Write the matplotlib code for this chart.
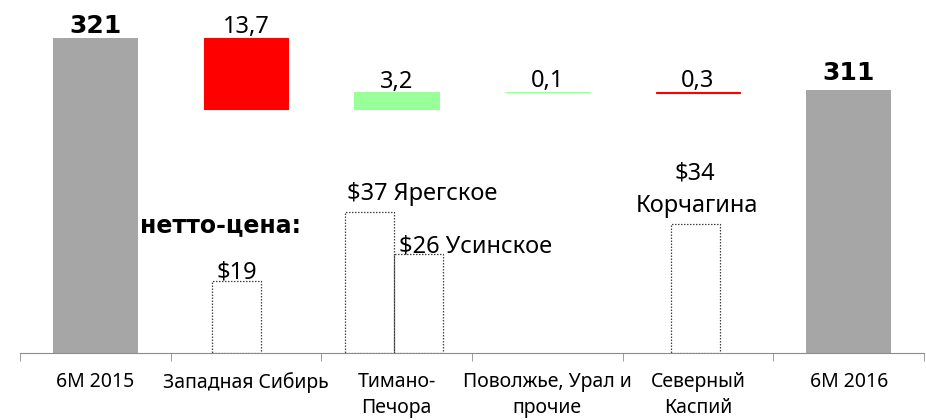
import numpy as np
import matplotlib.pyplot as plt

plt.rcParams['font.family'] = ['Noto Sans', 'DejaVu Sans']

categories = ['6M 2015', 'Западная Сибирь', 'Тимано-\nПечора',
              'Поволжье, Урал и\nпрочие', 'Северный\nКаспий', '6M 2016']
start_value = 321
deltas = [-13.7, 3.2, 0.1, -0.3]
delta_labels = ['13,7', '3,2', '0,1', '0,3']
delta_colors = ['#ff0000', '#99ff99', '#99ff99', '#ff0000']
end_value = 311

# нетто-цена, $/барр
price_x = [1.437, 2.322, 2.648, 4.482]
price_values = [19, 37, 26, 34]

fig = plt.figure(figsize=(9.26, 4.2), dpi=100)
ax = fig.add_axes([20 / 926, 67 / 420, 904 / 926, 353 / 420])
ax2 = ax.twinx()

bar_w = 0.564
price_w = 0.325
label_kw = dict(textcoords='offset points', ha='center', va='baseline')
bold_kw = dict(fontsize=18, fontweight='bold', family='DejaVu Sans')

# waterfall
ax.bar(0.5, start_value - 260, bottom=260, width=bar_w, color='#a6a6a6')
ax.annotate(str(start_value), (0.5, start_value), xytext=(0, 4), **bold_kw, **label_kw)

level = start_value
for i, (d, lab, c) in enumerate(zip(deltas, delta_labels, delta_colors)):
    x = i + 1.5
    lo, hi = min(level, level + d), max(level, level + d)
    ax.bar(x, hi - lo, bottom=lo, width=bar_w, color=c, edgecolor=c, linewidth=0.8)
    ax.annotate(lab, (x, hi), xytext=(0, 3.5), fontsize=17, **label_kw)
    level += d

ax.bar(5.5, end_value - 260, bottom=260, width=bar_w, color='#a6a6a6')
ax.annotate(str(end_value), (5.5, end_value), xytext=(0, 7), **bold_kw, **label_kw)

ax.set_xlim(0, 6)
ax.set_ylim(260, 328.4)

# net prices
ax2.bar(price_x, price_values, width=price_w, facecolor='none',
        edgecolor='#404040', linestyle=(0, (1.2, 1.2)), linewidth=0.9)
ax2.set_ylim(0, 92.9)

ax2.annotate('$19', (price_x[0], 19), xytext=(0, 1.5), fontsize=17, **label_kw)
ax2.annotate('$37 Ярегское', (price_x[1] - price_w / 2, 37), xytext=(1, 9),
             textcoords='offset points', ha='left', va='baseline', fontsize=17)
ax2.annotate('$26 Усинское', (price_x[2] - price_w / 2, 26), xytext=(3, 1),
             textcoords='offset points', ha='left', va='baseline', fontsize=17)
ax2.annotate('Корчагина', (price_x[3], 34), xytext=(1, 8.6), fontsize=17, **label_kw)
ax2.annotate('$34', (price_x[3], 34), xytext=(0, 32), fontsize=17, **label_kw)
ax2.text(0.796, 31.8, 'нетто-цена:', fontsize=17, fontweight='bold',
         family='DejaVu Sans', ha='left', va='baseline')

# axes styling
for a in (ax, ax2):
    for s in ('top', 'right', 'left'):
        a.spines[s].set_visible(False)
    a.set_yticks([])
ax2.spines['bottom'].set_visible(False)
ax.spines['bottom'].set_color('#8c8c8c')
ax.set_xticks(np.arange(6) + 0.5)
ax.set_xticklabels(categories, fontsize=14, linespacing=1.4)
ax.tick_params(axis='x', which='major', length=0, pad=14)
ax.set_xticks(np.arange(7), minor=True)
ax.tick_params(axis='x', which='minor', length=6, color='#8c8c8c')

fig.savefig('out.png', dpi=100)
